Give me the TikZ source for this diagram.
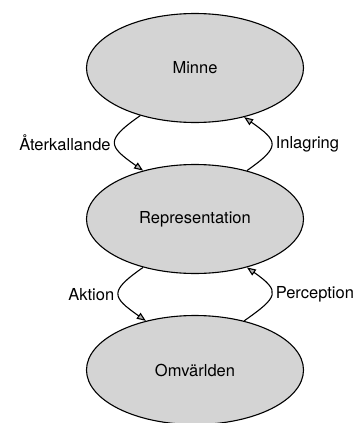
\documentclass[tikz,border=0pt]{standalone}
\usepackage{fontspec}
\setmainfont{TeX Gyre Heros}
\usetikzlibrary{shapes.geometric}
\usetikzlibrary{arrows.meta}

\begin{document}
\begin{tikzpicture}[x=1pt,y=-1pt,
	ovalnode/.style={ellipse, draw=black, fill=black!17, line width=1.1pt, minimum width=217pt, minimum height=109pt, inner sep=0pt},
	flow/.style={line width=1.1pt, -{Triangle[length=9pt,width=7pt,fill=black!30]}},
	lbl/.style={font=\fontsize{16.5}{19}\selectfont, inner sep=1pt},
	]
	\useasboundingbox (0,0) rectangle (362,423);
	%Nodes
	\node[ovalnode]      (minne) 	at 	(195,68)       {\fontsize{16.5}{19}\selectfont Minne};
	\node[ovalnode]      (repr) 	at 	(195,219)      {\fontsize{16.5}{19}\selectfont Representation};
	\node[ovalnode]      (omv) 	at 	(195,370)      {\fontsize{16.5}{19}\selectfont Omvärlden};
	
	%Connectors
	\draw[flow] (minne.221) to[out=215, in=145, looseness=2] node[lbl, left=3pt] {Återkallande} (repr.137);
	\draw[flow] (repr.43) to[out=35, in=-35, looseness=2] node[lbl, right=3pt] {Inlagring} (minne.315);
	\draw[flow] (repr.223) to[out=215, in=145, looseness=2] node[lbl, left=3pt] {Aktion} (omv.135);
	\draw[flow] (omv.45) to[out=35, in=-35, looseness=2] node[lbl, right=3pt] {Perception} (repr.317);
\end{tikzpicture}
\end{document}
